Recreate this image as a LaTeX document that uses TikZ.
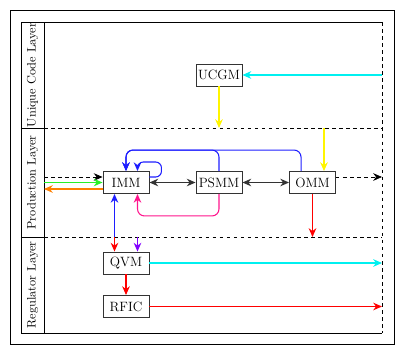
\documentclass[tikz,border=0pt]{standalone}
\usepackage{xcolor}
\usepackage{tikz}
\usetikzlibrary{arrows.meta,positioning,calc}
\definecolor{rosa}{RGB}{255,20,140}
\definecolor{viola}{RGB}{130,0,255}
\definecolor{arancio}{RGB}{255,128,0}
\definecolor{verdino}{RGB}{40,240,40}
\definecolor{blu}{RGB}{30,30,255}
\definecolor{ciano}{RGB}{0,240,240}
\definecolor{giallo}{RGB}{255,245,0}
\definecolor{rosso}{RGB}{255,0,0}

\begin{document}
\begin{tikzpicture}[x=0.03cm, y=-0.03cm,
    box/.style={draw=black!80, thick, fill=white, minimum width=1.38cm, minimum height=0.66cm, inner sep=1pt, font=\fontsize{11.5}{13}\selectfont},
    layer/.style={rotate=90, font=\fontsize{10.5}{12}\selectfont},
    arr/.style={line width=0.9pt, -{Stealth[length=7.5pt,width=6.5pt]}},
    darr/.style={line width=0.9pt, {Stealth[length=7.5pt,width=6.5pt]}-{Stealth[length=7.5pt,width=6.5pt]}}]
        \useasboundingbox (0,0) rectangle (406,357);
        % frames
        \draw[semithick] (10,10) rectangle (394,344);
        \draw[semithick] (382,22) -- (21,22) -- (21,333) -- (382,333);
        \draw[semithick, dashed] (382,22) -- (382,333);
        \draw[semithick] (44,22) -- (44,333);
        \foreach \y in {128, 237} {
          \draw[semithick] (21,\y) -- (44,\y);
          \draw[semithick, dashed] (44,\y) -- (382,\y);
        }
        \foreach \t/\y in {Unique Code Layer/75, Production Layer/182.5, Regulator Layer/285} {
          \node[layer] at (32.5,\y) {\t};
        }
        % modules
        \foreach \n/\t/\x/\y in {ucgm/UCGM/219/75, imm/IMM/126/182.5, psmm/PSMM/219/182.5, omm/OMM/312.5/182.5, qvm/QVM/126/263, rfic/RFIC/126/306.5} {
          \node[box] (\n) at (\x,\y) {\t};
        }
        \coordinate (ucgmin) at (382,75);
        \coordinate (topsep) at (382,128);
        \coordinate (ommin) at (324,128);
        \coordinate (prodin) at (44,177);
        \coordinate (greenin) at (44,182.5);
        \coordinate (orangeout) at (44,189);
        \coordinate (prodout) at (382,177);
        \coordinate (regsep) at (382,237);
        \coordinate (bluejoin) at (114.5,237);
        \coordinate (purpjoin) at (137.5,237);
        \coordinate (qvmout) at (382,263);
        \coordinate (rficout) at (382,306.5);
        % unique code layer
        \draw[arr, ciano] (ucgmin) -- (ucgm);
        \draw[arr, giallo] (ucgm) -- (ucgm |- topsep);
        \draw[arr, giallo] (ommin) -- (ommin |- omm.north);
        % production layer
        \draw[arr, blu, rounded corners=6pt] ($(omm.north west)+(12,0)$) |- ($(imm.north)+(0,-21)$) -- (imm.north);
        \draw[arr, blu, rounded corners=6pt] (psmm.north) |- ($(imm.north)+(0,-21)$) -- (imm.north);
        \draw[arr, blu, rounded corners=5pt] ($(imm.east)+(0,-5.5)$) -| ++(12,-15) -| ($(imm.north)+(11.5,0)$);
        \draw[darr, black!80] (imm) -- (psmm);
        \draw[darr, black!80] (psmm) -- (omm);
        \draw[arr, semithick, dashed] (prodin) -- (prodin -| imm.west);
        \draw[arr, semithick, dashed] (prodout -| omm.east) -- (prodout);
        \draw[arr, verdino] (greenin) -- (imm.west);
        \draw[arr, arancio] ($(imm.west)+(0,6.5)$) -- (orangeout);
        \draw[arr, rosa, rounded corners=6pt] (psmm.south) |- ($(imm.south)+(11.5,22)$) -- ($(imm.south)+(11.5,0)$);
        \draw[arr, rosso] (omm.south) -- (omm.south |- regsep);
        % regulator layer
        \draw[arr, blu] (bluejoin) -- (bluejoin |- imm.south);
        \draw[arr, rosso] (bluejoin) -- (bluejoin |- qvm.north);
        \draw[arr, viola] (purpjoin) -- (purpjoin |- qvm.north);
        \draw[arr, ciano] (qvm.east) -- (qvmout);
        \draw[arr, rosso] (qvm) -- (rfic);
        \draw[arr, rosso] (rfic.east) -- (rficout);
      \end{tikzpicture}
\end{document}
